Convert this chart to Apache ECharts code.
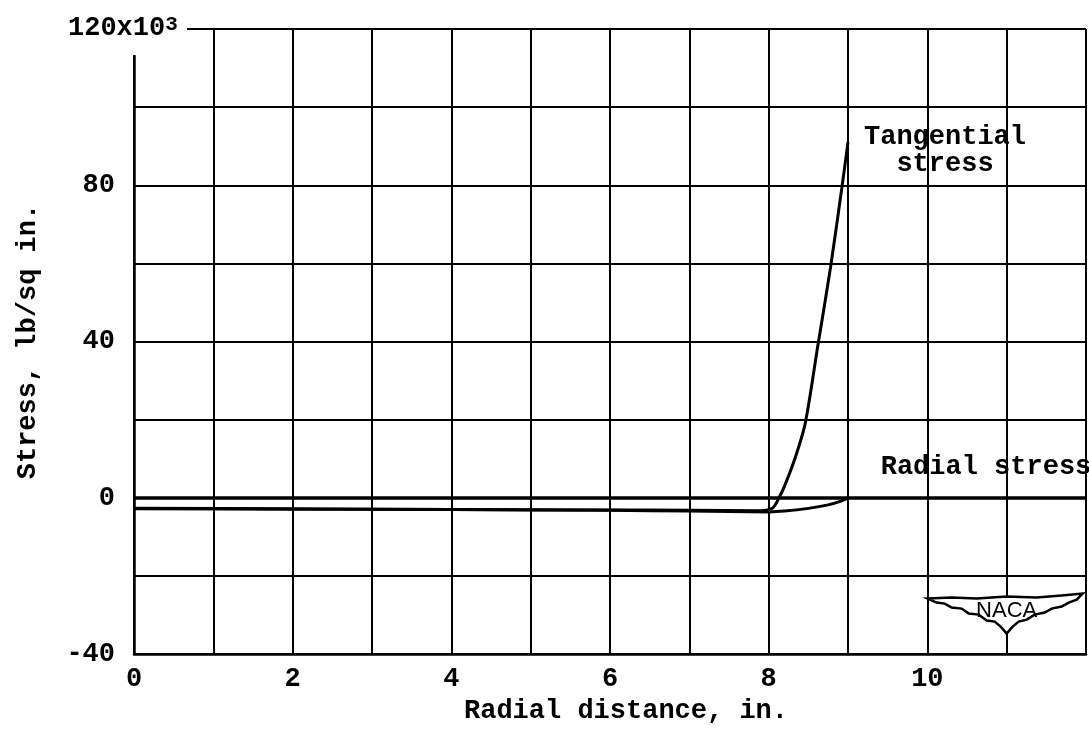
<!DOCTYPE html>
<html>
<head>
<meta charset="utf-8">
<title>Stress distribution</title>
<script src="https://cdn.jsdelivr.net/npm/echarts@6/dist/echarts.min.js"></script>
<style>
  html, body { margin: 0; padding: 0; background: #fff; }
  #chart { width: 1089px; height: 730px; }
</style>
</head>
<body>
<div id="chart"></div>
<script>
// Axis tick labels
const xTickLabels = [0, 2, 4, 6, 8, 10];
const yTickLabels = [-40, 0, 40, 80];
const yTopLabel = 120;

// Stress (thousands of lb/sq in.) against radial distance (in.)
const tangentialStress = [
  [0, -2.8], [2, -2.9], [4, -3.0], [6, -3.1], [7, -3.2], [7.9, -3.3],
  [8.05, -2.6], [8.13, 0], [8.2, 3], [8.33, 10], [8.46, 19],
  [8.62, 39], [8.78, 59], [8.92, 79], [9.0, 91]
];
const radialStress = [
  [0, -2.7], [2, -2.8], [4, -3.0], [6, -3.2], [7, -3.4], [8, -3.6],
  [8.2, -3.4], [8.5, -2.7], [8.75, -1.8], [8.9, -0.9], [9.0, 0]
];

const FONT = '"Liberation Mono", "DejaVu Sans Mono", monospace';
const INK = '#000';

const chart = echarts.init(document.getElementById('chart'), null, { renderer: 'canvas' });

const textBase = { fontFamily: FONT, fontWeight: 'bold', fontSize: 27, color: INK };

chart.setOption({
  backgroundColor: '#fff',
  animation: false,
  grid: { left: 134, right: 3, top: 29, bottom: 70, containLabel: false },
  xAxis: {
    type: 'value',
    min: 0, max: 12, interval: 1,
    name: 'Radial distance, in.',
    nameLocation: 'middle',
    nameGap: 28,
    nameTextStyle: Object.assign({}, textBase, { padding: [0, 0, 0, 32] }),
    axisLine: { show: true, onZero: false, lineStyle: { color: INK, width: 2.5 } },
    axisTick: { show: false },
    axisLabel: Object.assign({}, textBase, {
      margin: 12,
      formatter: v => (xTickLabels.indexOf(v) >= 0 ? String(v) : '')
    }),
    splitLine: { show: true, lineStyle: { color: INK, width: 2 } }
  },
  yAxis: {
    type: 'value',
    min: -40, max: 120, interval: 20,
    name: 'Stress, lb/sq in.',
    nameLocation: 'middle',
    nameGap: 92,
    nameTextStyle: textBase,
    axisLine: { show: true, lineStyle: { color: INK, width: 2.5 } },
    axisTick: { show: false },
    axisLabel: Object.assign({}, textBase, {
      margin: 19,
      formatter: v => (yTickLabels.indexOf(v) >= 0 ? String(v) : '')
    }),
    splitLine: { show: true, lineStyle: { color: INK, width: 2 } }
  },
  series: [
    {
      name: 'Tangential stress',
      type: 'line',
      data: tangentialStress,
      showSymbol: false,
      smooth: 0.3,
      lineStyle: { color: INK, width: 3 },
      z: 5,
      markPoint: {
        symbol: 'circle',
        symbolSize: 0,
        silent: true,
        data: [{ coord: tangentialStress[tangentialStress.length - 1] }],
        label: Object.assign({}, textBase, {
          show: true,
          position: 'inside',
          align: 'center',
          lineHeight: 27,
          offset: [97, 8],
          formatter: 'Tangential\nstress'
        })
      }
    },
    {
      name: 'Radial stress',
      type: 'line',
      data: radialStress,
      showSymbol: false,
      smooth: 0.3,
      lineStyle: { color: INK, width: 3 },
      z: 5,
      markPoint: {
        symbol: 'circle',
        symbolSize: 0,
        silent: true,
        data: [{ coord: radialStress[radialStress.length - 1] }],
        label: Object.assign({}, textBase, {
          show: true,
          position: 'inside',
          align: 'center',
          offset: [138, -31],
          formatter: 'Radial stress'
        })
      },
      markLine: {
        silent: true,
        symbol: 'none',
        label: { show: false },
        lineStyle: { color: INK, width: 3.5, type: 'solid' },
        data: [{ yAxis: 0 }]
      }
    }
  ]
});

// Decorations placed from the axis scales: top-left label with exponent and the NACA emblem
function px(pt) { return chart.convertToPixel({ gridIndex: 0 }, pt); }
const topLeft = px([0, yTopLabel]);
const emblem = px([11, -24]);

// wing outline around the emblem centre (relative offsets)
const wing = [
  [-79, 3], [-55, 2], [-30, 3], [0, 1], [30, 2], [55, 0], [76, -2],
  [70, 4], [62, 7], [55, 11], [45, 13], [38, 17], [28, 19], [20, 24],
  [12, 26], [6, 31], [0, 38], [-6, 31], [-12, 26], [-20, 25], [-28, 19],
  [-38, 18], [-45, 13], [-55, 12], [-62, 8], [-70, 7]
];

chart.setOption({
  graphic: [
    {
      type: 'rect',
      z: 100,
      shape: { x: topLeft[0] - 4, y: topLeft[1] - 4, width: 57, height: 30 },
      style: { fill: '#fff' }
    },
    {
      type: 'text',
      z: 101,
      x: topLeft[0] - 66,
      y: topLeft[1] - 1,
      style: {
        text: '{a|' + yTopLabel + 'x10}{b|3}',
        verticalAlign: 'middle',
        align: 'left',
        rich: {
          a: { fontFamily: FONT, fontWeight: 'bold', fontSize: 27, fill: INK, lineHeight: 27 },
          b: { fontFamily: FONT, fontWeight: 'bold', fontSize: 21, fill: INK, verticalAlign: 'top', lineHeight: 22 }
        }
      }
    },
    {
      type: 'group',
      x: emblem[0],
      y: emblem[1] + 4,
      z: 100,
      children: [
        {
          type: 'polygon',
          shape: { points: wing },
          style: { fill: '#fff', stroke: INK, lineWidth: 2.5 }
        },
        {
          type: 'text',
          x: 0, y: 15,
          style: {
            text: 'NACA',
            align: 'center',
            verticalAlign: 'middle',
            fontFamily: '"Liberation Sans", Arial, sans-serif',
            fontSize: 22,
            fill: INK
          }
        }
      ]
    }
  ]
});
</script>
</body>
</html>
